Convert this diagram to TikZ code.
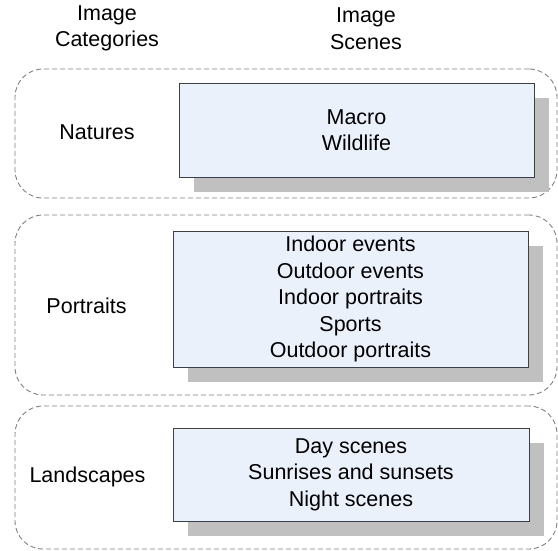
\documentclass[tikz,border=0pt]{standalone}
\usepackage{fontspec}
\setmainfont{Liberation Sans}
\usetikzlibrary{shadows}
\definecolor{scenefill}{RGB}{234,241,250}
\definecolor{sceneline}{RGB}{64,64,64}
\definecolor{shadowgray}{RGB}{192,192,192}
\definecolor{dashgray}{RGB}{128,128,128}
\begin{document}
\begin{tikzpicture}[x=1pt,y=-1pt,
  groupbox/.style={draw=dashgray, dash pattern=on 5pt off 3pt, line width=0.9pt, rounded corners=28pt, inner sep=0pt},
  scenebox/.style={draw=sceneline, fill=scenefill, line width=0.9pt, inner sep=0pt, align=center,
    font=\fontsize{21.5}{26.5}\selectfont,
    drop shadow={shadow xshift=14.5pt, shadow yshift=-14.5pt, fill=shadowgray, opacity=1}},
  label/.style={align=center, inner sep=0pt, font=\fontsize{21.5}{26.5}\selectfont}]
\useasboundingbox (0,0) rectangle (558,550);
% group boxes
\node[groupbox, minimum width=542pt, minimum height=129pt] (g1) at (286,133.5) {};
\node[groupbox, minimum width=542pt, minimum height=180pt] (g2) at (286,305) {};
\node[groupbox, minimum width=542pt, minimum height=143pt] (g3) at (286,477.5) {};
% headers
\node[label] (hc) at (107,28.5) {Image\\Categories};
\node[label] (hs) at (366,28.5) {Image\\Scenes};
% category labels
\node[label] (c1) at (97,132.5) {Natures};
\node[label] (c2) at (86.5,306) {Portraits};
\node[label] (c3) at (87.5,477) {Landscapes};
% scene boxes
\node[scenebox, minimum width=355pt, minimum height=94pt] (s1) at (356.5,130) {Macro\\Wildlife};
\node[scenebox, minimum width=355pt, minimum height=136pt] (s2) at (350.5,299) {Indoor events\\Outdoor events\\Indoor portraits\\Sports\\Outdoor portraits};
\node[scenebox, minimum width=356pt, minimum height=93pt] (s3) at (351,474.5) {Day scenes\\Sunrises and sunsets\\Night scenes};
\end{tikzpicture}
\end{document}
